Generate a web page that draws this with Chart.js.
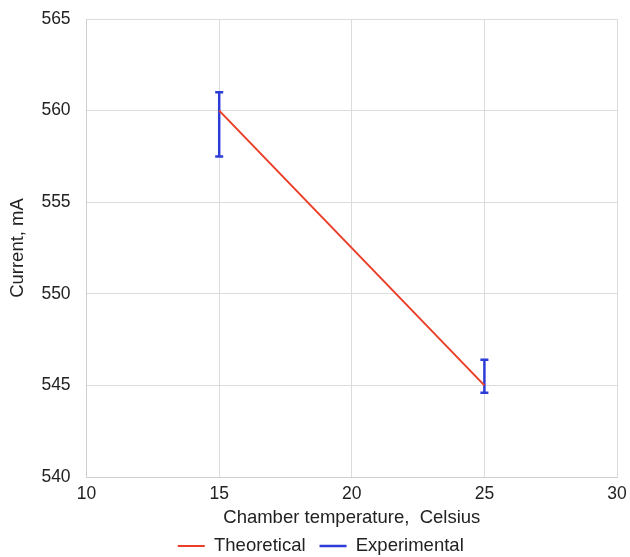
<!DOCTYPE html>
<html>
<head>
<meta charset="utf-8">
<script src="https://cdn.jsdelivr.net/npm/chart.js@4/dist/chart.umd.min.js"></script>
<style>
  html, body { margin: 0; padding: 0; background: #fff; }
  #wrap { width: 630px; height: 557px; }
</style>
</head>
<body>
<div id="wrap"><canvas id="currentChart"></canvas></div>
<script>
// chamber temperature (Celsius) and current (mA)
const temps = [15, 25];
const theoretical = [560, 545];
const expLow = [557.5, 544.6];
const expHigh = [561, 546.4];
const xTicks = [10, 15, 20, 25, 30];
const yTicks = [540, 545, 550, 555, 560, 565];

const RED = 'rgb(234, 62, 40)';
const BLUE = 'rgb(45, 60, 215)';

// theoretical line points
const theoData = temps.map((t, i) => ({ x: t, y: theoretical[i] }));

// error bars: one vertical segment per temperature, split with a null gap
const expData = [];
temps.forEach((t, i) => {
    if (i > 0) expData.push({ x: t, y: null });
    expData.push({ x: t, y: expHigh[i] });
    expData.push({ x: t, y: expLow[i] });
});

const family = 'Liberation Sans, Arial, sans-serif';
const tickFont = { family: family, size: 17.5 };
const titleFont = { family: family, size: 18.5 };
const legendFont = { family: family, size: 18.5 };

// nudge the legend a little to the right of the canvas centre
const legendShift = {
    id: 'legendShift',
    afterLayout(chart) {
        chart.legend.left += 14;
        chart.legend.right += 14;
    }
};

new Chart(document.getElementById('currentChart'), {
    type: 'scatter',
    data: {
        datasets: [{
            label: 'Theoretical',
            data: theoData,
            showLine: true,
            borderColor: RED,
            backgroundColor: RED,
            borderWidth: 2,
            pointRadius: 0
        }, {
            label: 'Experimental',
            data: expData,
            showLine: true,
            spanGaps: false,
            borderColor: BLUE,
            backgroundColor: BLUE,
            borderWidth: 2.5,
            pointStyle: 'line',
            pointRadius: 4,
            pointBorderWidth: 2.5,
            pointBorderColor: BLUE
        }]
    },
    plugins: [legendShift],
    options: {
        responsive: true,
        maintainAspectRatio: false,
        animation: false,
        layout: { padding: { top: 19, right: 13, left: -3.5, bottom: -8.3 } },
        plugins: {
            legend: {
                position: 'bottom',
                labels: {
                    usePointStyle: true,
                    pointStyle: 'line',
                    pointStyleWidth: 27,
                    boxHeight: 2,
                    padding: 14,
                    color: '#222',
                    font: legendFont
                }
            },
            tooltip: { enabled: false }
        },
        scales: {
            x: {
                type: 'linear',
                min: 10,
                max: 30,
                afterBuildTicks: axis => { axis.ticks = xTicks.map(v => ({ value: v })); },
                // let the layout padding decide the edges instead of label overflow
                afterFit: axis => { axis.paddingLeft = 0; axis.paddingRight = 0; },
                grid: { color: '#dcdcdc', drawTicks: false },
                border: { color: '#cfcfcf' },
                ticks: { color: '#222', font: tickFont, padding: 7 },
                title: {
                    display: true,
                    text: 'Chamber temperature,  Celsius',
                    color: '#222',
                    font: titleFont,
                    padding: { top: -5.3, bottom: -6.1 }
                }
            },
            y: {
                min: 540,
                max: 565,
                afterBuildTicks: axis => { axis.ticks = yTicks.map(v => ({ value: v })); },
                afterFit: axis => { axis.paddingTop = 0; axis.paddingBottom = 0; },
                grid: { color: '#dcdcdc', drawTicks: false },
                border: { color: '#cfcfcf' },
                ticks: { color: '#222', font: tickFont, padding: 16 },
                title: {
                    display: true,
                    text: 'Current, mA',
                    color: '#222',
                    font: titleFont,
                    padding: { top: 10.4, bottom: -3.7 }
                }
            }
        }
    }
});
</script>
</body>
</html>
